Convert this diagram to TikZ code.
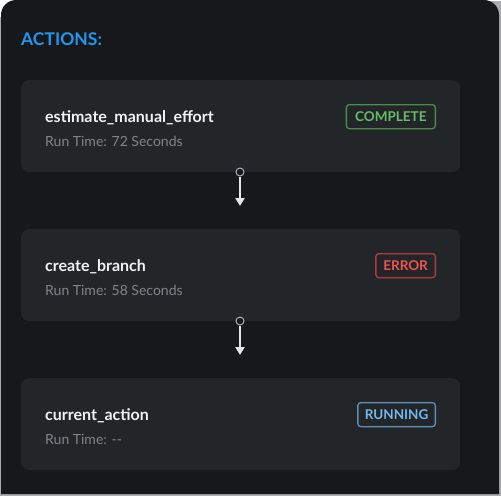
\documentclass[tikz,border=0pt]{standalone}
\usepackage{fontspec}
\setmainfont{Lato}
\usetikzlibrary{arrows.meta}
\definecolor{bgdark}{HTML}{161819}
\definecolor{card}{HTML}{232628}
\definecolor{titlec}{HTML}{F2F2F2}
\definecolor{subc}{HTML}{80858A}
\definecolor{blueh}{HTML}{2196F3}
\definecolor{greent}{HTML}{66BB6A}
\definecolor{greenb}{HTML}{4C8A4E}
\definecolor{redt}{HTML}{EF5350}
\definecolor{redb}{HTML}{B23A3C}
\definecolor{bluet}{HTML}{72B8EE}
\definecolor{blueb}{HTML}{5E8DB4}
\definecolor{edgec}{HTML}{A8ACB0}
\definecolor{arrowc}{HTML}{E6E6E6}
\definecolor{ringc}{HTML}{B0B0B0}
\tikzset{
  cardbox/.style={fill=card, rounded corners=8pt, minimum width=439pt, minimum height=92pt, anchor=north west, inner sep=0pt, draw=none},
  titletext/.style={anchor=base west, inner sep=0pt, text=titlec, font=\fontsize{16}{19}\selectfont\bfseries},
  subtext/.style={anchor=base west, inner sep=0pt, text=subc, font=\fontsize{14}{17}\selectfont},
  badge/.style={rounded corners=3pt, line width=1.3pt, minimum height=24pt, inner sep=0pt, anchor=north east, font=\fontsize{13.5}{16}\selectfont\bfseries},
  ring/.style={circle, draw=ringc, fill=bgdark, line width=1pt, minimum size=8pt, inner sep=0pt},
  flow/.style={draw=arrowc, line width=2.2pt, -{Triangle[length=8pt,width=9pt]}},
}
\begin{document}
\begin{tikzpicture}[x=1pt,y=-1pt]
\useasboundingbox (0,0) rectangle (501,496);
\fill[white] (0,0) rectangle (501,496);
\fill[edgec] (0,17) rectangle (501,496);
\fill[edgec] (484,0) -- (501,0) -- (501,20) -- cycle;
\fill[white] (482,0) rectangle (501,1);
\fill[bgdark] (1,494) [rounded corners=15pt] -- (1,0) -- (499,0) [sharp corners] -- (499,494) -- cycle;

\node[anchor=base west, inner sep=0pt, text=blueh, font=\fontsize{17.5}{21}\selectfont\bfseries] (head) at (21,45) {ACTIONS:};

% card 1
\node[cardbox] (c1) at (21,80) {};
\node[titletext] (t1) at (45,122) {estimate\_manual\_effort};
\node[subtext] (s1) at (45,146) {Run Time: 72 Seconds};
\node[badge, draw=greenb, text=greent, minimum width=89pt] (b1) at (436,104) {COMPLETE};

% card 2
\node[cardbox] (c2) at (21,229) {};
\node[titletext] (t2) at (45,271) {create\_branch};
\node[subtext] (s2) at (45,295) {Run Time: 58 Seconds};
\node[badge, draw=redb, text=redt, minimum width=59.5pt] (b2) at (436,253) {ERROR};

% card 3
\node[cardbox] (c3) at (21,378) {};
\node[titletext] (t3) at (45,420) {current\_action};
\node[subtext] (s3) at (45,444) {Run Time: -{}-};
\node[badge, draw=blueb, text=bluet, minimum width=77.5pt] (b3) at (436,402) {RUNNING};

% connectors
\coordinate (e1) at (240,206);
\coordinate (e2) at (240,355);
\node[ring] (r1) at (240,172) {};
\node[ring] (r2) at (240,321) {};
\draw[flow] (r1.south) -- (e1);
\draw[flow] (r2.south) -- (e2);
\end{tikzpicture}
\end{document}
